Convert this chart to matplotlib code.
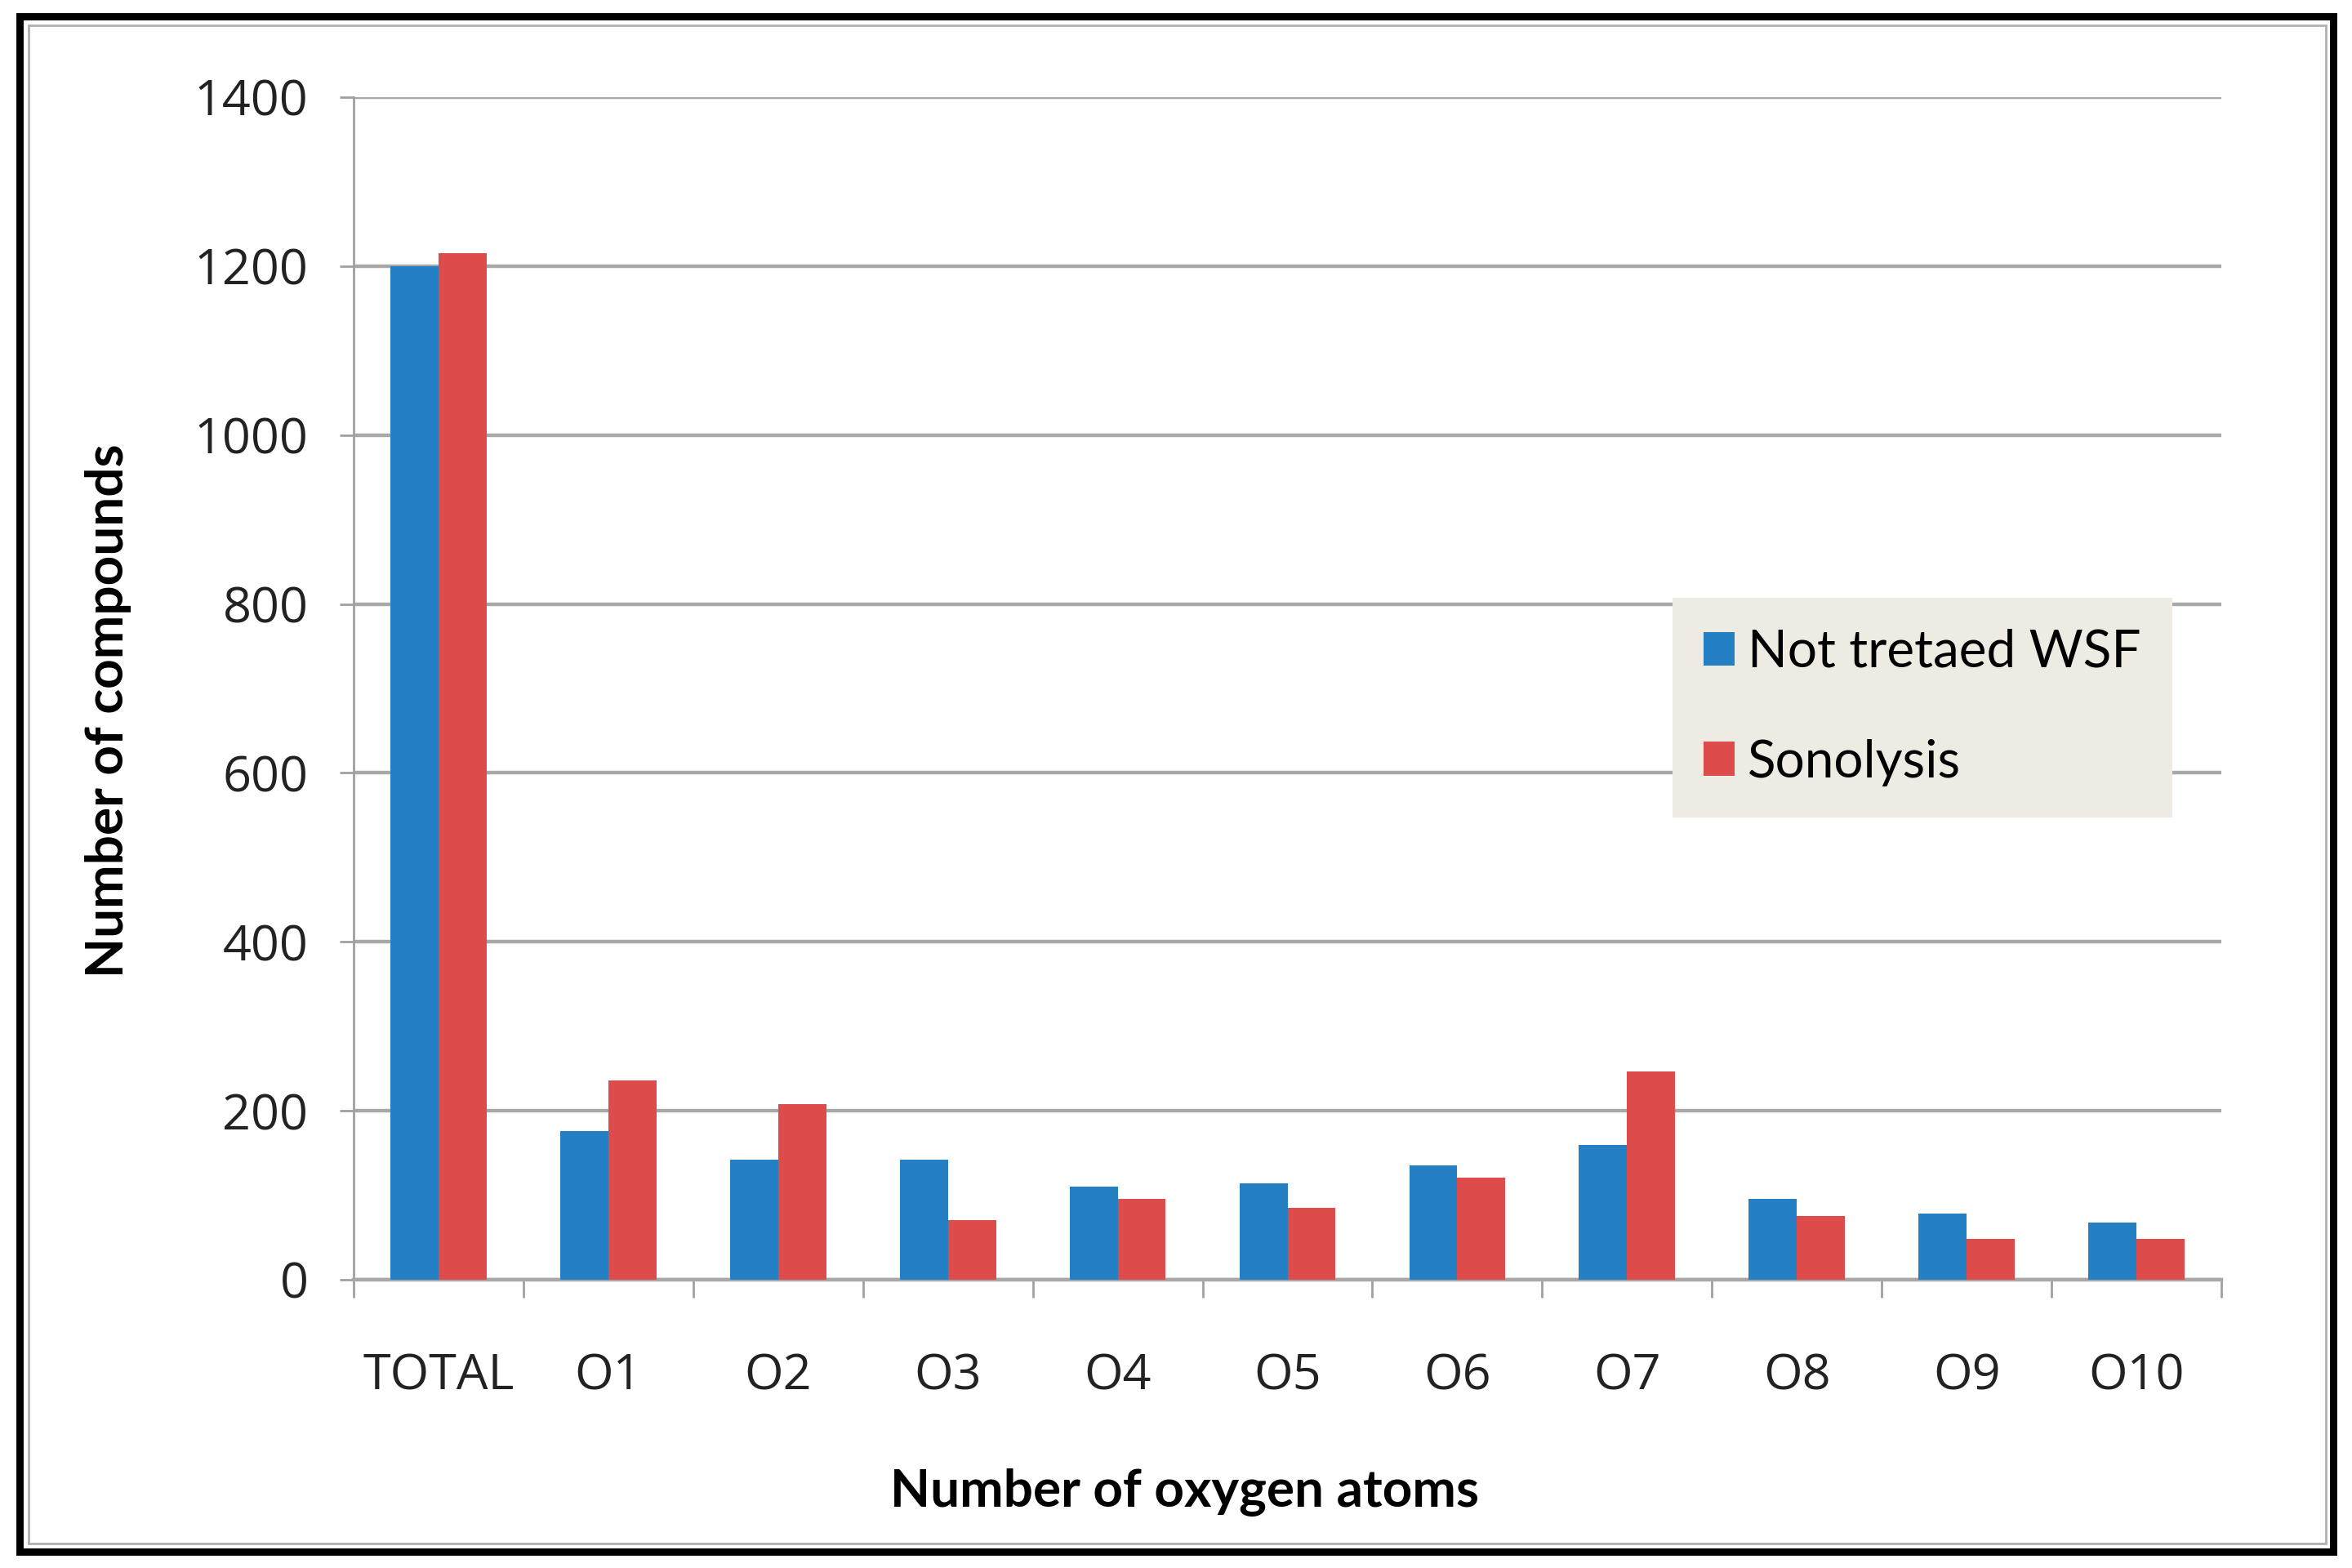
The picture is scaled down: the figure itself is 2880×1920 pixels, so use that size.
import matplotlib
matplotlib.use("Agg")
import matplotlib.pyplot as plt
import numpy as np
from matplotlib.patches import Rectangle

categories = ["TOTAL", "O1", "O2", "O3", "O4", "O5", "O6", "O7", "O8", "O9", "O10"]
not_treated = [1200, 176, 142, 142, 110, 114, 135, 160, 96, 78, 68]
sonolysis = [1215, 236, 208, 71, 96, 85, 121, 247, 75, 48, 48]
series_names = ["Not tretaed WSF", "Sonolysis"]
yticks = [0, 200, 400, 600, 800, 1000, 1200, 1400]

plt.rcParams['font.family'] = ['Lato', 'DejaVu Sans']

fig = plt.figure(figsize=(14.4, 9.6), dpi=200)
W, H = 2880, 1920

# frame: black outer border + thin gray inner line
fig.patches.append(Rectangle((24 / W, 1 - 1900 / H), (2857 - 24) / W, (1900 - 20) / H,
                             transform=fig.transFigure, fill=False, edgecolor='black', linewidth=3.2, zorder=0))
fig.patches.append(Rectangle((35 / W, 1 - 1890 / H), (2848 - 35) / W, (1890 - 31) / H,
                             transform=fig.transFigure, fill=False, edgecolor='#b0b0b0', linewidth=1.0, zorder=0))

ax = fig.add_axes([433 / W, 1 - 1567 / H, (2720 - 433) / W, (1567 - 119) / H])

x = np.arange(len(categories))
bw = 0.283
ax.bar(x - bw / 2, not_treated, width=bw, color='#2580C3', label=series_names[0], zorder=3)
ax.bar(x + bw / 2, sonolysis, width=bw, color='#DD4C4B', label=series_names[1], zorder=3)

tick_font = ['Open Sans', 'DejaVu Sans']
ax.set_xlim(-0.5, len(categories) - 0.5)
ax.set_ylim(0, 1400)
ax.set_yticks(yticks)
ax.set_yticklabels([str(v) for v in yticks], fontsize=22, family=tick_font, color='#222222')
ax.yaxis.grid(True, color='#A8A8A8', linewidth=1.6, zorder=0)
ax.set_axisbelow(True)

ax.set_xticks(np.arange(-0.5, len(categories), 1.0))
ax.set_xticklabels([])
ax.set_xticks(x, minor=True)
ax.set_xticklabels(categories, minor=True, fontsize=22, family=tick_font, color='#222222')
ax.tick_params(axis='x', which='major', length=8, width=1.0, color='#A0A0A0', direction='out')
ax.tick_params(axis='x', which='minor', length=0, pad=32)
ax.tick_params(axis='y', length=6, width=1.0, color='#A0A0A0', direction='out', pad=14)

for s in ['top', 'right']:
    ax.spines[s].set_visible(False)
ax.spines['left'].set_color('#A0A0A0')
ax.spines['left'].set_linewidth(1.0)
ax.spines['bottom'].set_color('#A8A8A8')
ax.spines['bottom'].set_linewidth(1.6)

ax.set_xlabel("Number of oxygen atoms", fontsize=23, fontweight='bold')
ax.set_ylabel("Number of compounds", fontsize=23, fontweight='bold')
ax.xaxis.set_label_coords(0.445, -0.159)
ax.yaxis.set_label_coords(-0.119, 0.481)

leg = ax.legend(loc='upper left', bbox_to_anchor=(0.706, 0.577), fontsize=23,
                frameon=True, fancybox=False, handlelength=0.6, handleheight=0.62,
                handletextpad=0.25, labelspacing=1.2, borderpad=0.6, borderaxespad=0)
leg.get_frame().set_facecolor('#EEECE2')
leg.get_frame().set_edgecolor('none')
leg.get_frame().set_alpha(1)

fig.savefig("out.png", dpi=200)
